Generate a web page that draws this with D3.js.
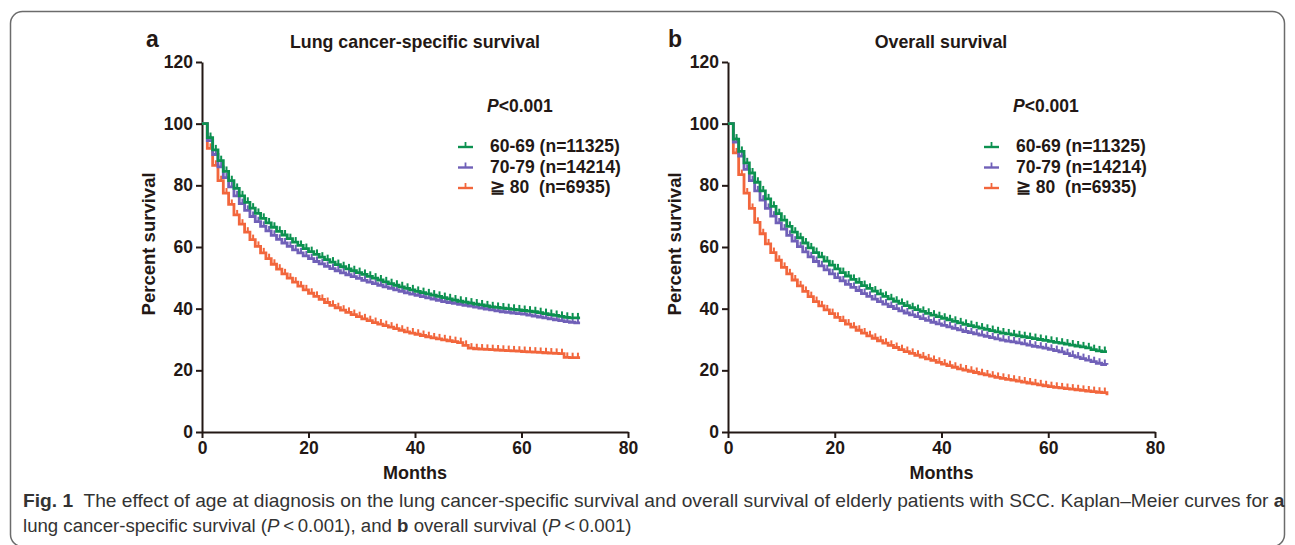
<!DOCTYPE html>
<html>
<head>
<meta charset="utf-8">
<script src="https://cdn.jsdelivr.net/npm/d3@7"></script>
<style>
  body { margin: 0; background: #fff; }
  svg { display: block; font-family: "Liberation Sans", Arial, sans-serif; }
  .axis path, .axis line { stroke: #231815; stroke-width: 2; }
  .axis text { font-size: 17.5px; font-weight: bold; fill: #231815; }
</style>
</head>
<body>
<svg id="chart" width="1295" height="545"></svg>
<script>
// months 0..71, one value per month (step after)
const months = d3.range(0, 72);

const groups = ['60-69 (n=11325)', '70-79 (n=14214)', '\u2267 80  (n=6935)'];
const colors = ['#0c9150', '#7060b8', '#f2663c'];

const xTicks = [0, 20, 40, 60, 80];
const yTicks = [0, 20, 40, 60, 80, 100, 120];

// a: lung cancer-specific survival
const lcss6069 = [100, 95.5, 91.5, 88, 84.5, 81.5, 79, 76.6, 74.5, 72.6, 70.9, 69.3, 67.8, 66.4, 65.1, 63.9, 62.7, 61.6, 60.5, 59.5,
  58.5, 57.6, 56.7, 55.9, 55.1, 54.3, 53.6, 52.9, 52.3, 51.7, 51.1, 50.5, 49.9, 49.3, 48.7, 48.1, 47.6, 47.1, 46.6, 46.1,
  45.6, 45.2, 44.8, 44.4, 44.0, 43.6, 43.2, 42.8, 42.4, 42.1, 41.8, 41.5, 41.2, 40.9, 40.6, 40.4, 40.2, 40.0, 39.8, 39.6,
  39.4, 39.2, 39.0, 38.7, 38.4, 38.1, 37.8, 37.5, 37.2, 37.0, 37.0, 37.0];
const lcss7079 = [100, 94.5, 90, 86, 82.5, 79.5, 76.6, 74.1, 71.9, 69.9, 68.2, 66.7, 65.2, 63.8, 62.5, 61.3, 60.2, 59.1, 58.1, 57.1,
  56.2, 55.3, 54.5, 53.7, 53.0, 52.3, 51.6, 51.0, 50.4, 49.8, 49.2, 48.6, 48.1, 47.6, 47.1, 46.6, 46.1, 45.6, 45.1, 44.7,
  44.3, 43.9, 43.5, 43.1, 42.7, 42.3, 42.0, 41.7, 41.4, 41.1, 40.8, 40.5, 40.2, 39.9, 39.6, 39.3, 39.0, 38.8, 38.6, 38.4,
  38.2, 37.9, 37.6, 37.3, 37.0, 36.7, 36.4, 36.1, 35.8, 35.6, 35.4, 35.4];
const lcss80 = [100, 92, 86.5, 81.5, 77.5, 73.8, 70.4, 67.4, 64.8, 62.4, 60.2, 58.1, 56.2, 54.4, 52.8, 51.3, 49.9, 48.6, 47.3, 46.1,
  45.0, 44.0, 43.0, 42.0, 41.1, 40.3, 39.5, 38.8, 38.1, 37.4, 36.7, 36.1, 35.5, 35.0, 34.5, 34.0, 33.5, 33.0, 32.5, 32.1,
  31.7, 31.3, 30.9, 30.5, 30.2, 29.9, 29.6, 29.3, 29.0, 28.1, 27.2, 27.0, 26.9, 26.8, 26.7, 26.6, 26.5, 26.4, 26.3, 26.2,
  26.1, 26.0, 25.9, 25.8, 25.7, 25.6, 25.5, 25.4, 24.2, 24.1, 24.1, 24.1];

// b: overall survival
const os6069 = [100, 95, 91, 87.3, 84, 81, 78.2, 75.6, 73.2, 70.8, 68.7, 66.7, 64.8, 63.0, 61.3, 59.7, 58.2, 56.8, 55.4, 54.1,
  52.9, 51.7, 50.6, 49.5, 48.5, 47.5, 46.6, 45.7, 44.8, 44.0, 43.2, 42.4, 41.7, 41.0, 40.3, 39.7, 39.1, 38.5, 37.9, 37.4,
  36.9, 36.4, 35.9, 35.4, 34.9, 34.5, 34.1, 33.7, 33.3, 32.9, 32.5, 32.1, 31.8, 31.5, 31.2, 30.9, 30.6, 30.3, 30.0, 29.7,
  29.4, 29.1, 28.8, 28.5, 28.2, 27.9, 27.6, 27.3, 26.7, 26.3, 26.1, 26.1];
const os7079 = [100, 94, 89.5, 85.2, 81.5, 78.2, 75.2, 72.5, 70, 67.8, 65.8, 63.8, 61.9, 60.1, 58.4, 56.8, 55.3, 53.9, 52.6, 51.3,
  50.1, 49.0, 47.9, 46.9, 45.9, 44.9, 44.0, 43.1, 42.3, 41.5, 40.7, 40.0, 39.3, 38.6, 38.0, 37.4, 36.8, 36.2, 35.6, 35.1,
  34.6, 34.1, 33.6, 33.1, 32.6, 32.2, 31.8, 31.4, 31.0, 30.6, 30.2, 29.8, 29.5, 29.2, 28.9, 28.6, 28.2, 27.8, 27.5, 27.2,
  26.8, 26.4, 26.0, 25.4, 24.8, 24.3, 23.8, 23.3, 22.8, 22.3, 21.9, 21.8];
const os80 = [100, 90.5, 83.5, 77.5, 72.5, 68, 64.3, 61, 58.2, 55.7, 53.4, 51.3, 49.3, 47.4, 45.6, 43.9, 42.3, 40.9, 39.6, 38.4,
  37.2, 36.1, 35.0, 34.0, 33.0, 32.1, 31.2, 30.4, 29.6, 28.8, 28.1, 27.4, 26.7, 26.1, 25.5, 24.9, 24.3, 23.7, 23.2, 22.6,
  22.0, 21.5, 21.0, 20.5, 20.1, 19.7, 19.3, 18.9, 18.5, 18.1, 17.7, 17.4, 17.1, 16.8, 16.5, 16.2, 15.9, 15.6, 15.3, 15.0,
  14.7, 14.5, 14.3, 14.1, 13.9, 13.7, 13.5, 13.3, 13.1, 12.9, 12.8, 11.9];

const svg = d3.select('#chart');
const ink = '#231815';

// rounded frame around the figure
svg.append('rect')
   .attr('x', 10.5).attr('y', 11.5)
   .attr('width', 1274).attr('height', 535)
   .attr('rx', 12)
   .attr('fill', 'none')
   .attr('stroke', '#6b6b6b')
   .attr('stroke-width', 1.5);

function drawPanel(p) {
  const x = d3.scaleLinear().domain([0, 80]).range([p.left, p.right]);
  const y = d3.scaleLinear().domain([0, 120]).range([432, 62]);

  svg.append('g')
     .attr('class', 'axis')
     .attr('transform', `translate(0,${y(0)})`)
     .call(d3.axisBottom(x).tickValues(xTicks).tickSize(6).tickSizeOuter(0).tickPadding(4))
     .call(g => g.selectAll('text').attr('dy', '0.71em'));

  svg.append('g')
     .attr('class', 'axis')
     .attr('transform', `translate(${x(0)},0)`)
     .call(d3.axisLeft(y).tickValues(yTicks).tickSize(6).tickSizeOuter(0).tickPadding(3));

  // curves
  const line = d3.line()
                 .x(d => x(d[0]))
                 .y(d => y(d[1]))
                 .curve(d3.curveStepAfter);

  // draw oldest group first so the younger groups stay on top
  p.series.slice().reverse().forEach((s, ri) => {
    const i = p.series.length - 1 - ri;
    const pts = months.map((m, k) => [m, s[k]]);
    svg.append('path')
       .datum(pts)
       .attr('d', line)
       .attr('fill', 'none')
       .attr('stroke', colors[i])
       .attr('stroke-width', 2.8)
       .attr('stroke-linejoin', 'miter');

    // censor ticks
    svg.append('g')
       .selectAll('line')
       .data(pts.slice(1, -1))
       .join('line')
       .attr('x1', d => x(d[0] + 0.6)).attr('x2', d => x(d[0] + 0.6))
       .attr('y1', d => y(d[1])).attr('y2', d => y(d[1]) - 5)
       .attr('stroke', colors[i])
       .attr('stroke-width', 2);
  });

  // panel letter and title
  svg.append('text')
     .attr('x', p.letterX).attr('y', 47)
     .attr('font-size', 23).attr('font-weight', 'bold').attr('fill', ink)
     .text(p.letter);
  svg.append('text')
     .attr('x', p.titleX).attr('y', 48)
     .attr('text-anchor', 'middle')
     .attr('font-size', 17.8).attr('font-weight', 'bold').attr('fill', ink)
     .text(p.title);

  // axis titles
  svg.append('text')
     .attr('x', (p.left + p.right) / 2).attr('y', 479)
     .attr('text-anchor', 'middle')
     .attr('font-size', 18).attr('font-weight', 'bold').attr('fill', ink)
     .text('Months');
  svg.append('text')
     .attr('transform', `translate(${p.left - 47},${y(61)}) rotate(-90)`)
     .attr('text-anchor', 'middle')
     .attr('font-size', 18.5).attr('font-weight', 'bold').attr('fill', ink)
     .text('Percent survival');

  // p-value and legend
  const pv = svg.append('text')
     .attr('x', p.legX + 29).attr('y', 112)
     .attr('font-size', 17.5).attr('font-weight', 'bold').attr('fill', ink);
  pv.append('tspan').attr('font-style', 'italic').text('P');
  pv.append('tspan').text('<0.001');

  groups.forEach((gName, i) => {
    const ly = 152 + i * 20.5;
    svg.append('line')
       .attr('x1', p.legX).attr('x2', p.legX + 15)
       .attr('y1', ly - 5).attr('y2', ly - 5)
       .attr('stroke', colors[i]).attr('stroke-width', 2.4);
    svg.append('line')
       .attr('x1', p.legX + 7.5).attr('x2', p.legX + 7.5)
       .attr('y1', ly - 5).attr('y2', ly - 10)
       .attr('stroke', colors[i]).attr('stroke-width', 1.8);
    svg.append('text')
       .attr('x', p.legX + 32).attr('y', ly)
       .attr('font-size', 17.5).attr('font-weight', 'bold').attr('fill', ink)
       .attr('xml:space', 'preserve')
       .text(gName);
  });
}

drawPanel({
  left: 202, right: 628, letter: 'a', letterX: 146, title: 'Lung cancer-specific survival', titleX: 415,
  legX: 458, series: [lcss6069, lcss7079, lcss80]
});
drawPanel({
  left: 728, right: 1155, letter: 'b', letterX: 668, title: 'Overall survival', titleX: 941,
  legX: 984, series: [os6069, os7079, os80]
});

// caption, squeezed to the width of the original condensed face
const capFont = '"Liberation Sans Narrow", "Liberation Sans", Arial, sans-serif';
function captionLine(parts, yPos, width) {
  const t = svg.append('text')
               .attr('x', 0).attr('y', 0)
               .attr('font-family', capFont)
               .attr('font-size', 19)
               .attr('fill', '#333')
               .attr('xml:space', 'preserve');
  parts.forEach(pt => {
    t.append('tspan')
     .attr('font-weight', pt.b ? 'bold' : null)
     .attr('font-style', pt.i ? 'italic' : null)
     .text(pt.s);
  });
  const w = t.node().getComputedTextLength();
  t.attr('transform', `translate(23,${yPos}) scale(${width / w},1)`);
}
captionLine([
  { s: 'Fig. 1', b: true },
  { s: '  The effect of age at diagnosis on the lung cancer-specific survival and overall survival of elderly patients with SCC. Kaplan\u2013Meier curves for ' },
  { s: 'a', b: true }
], 507, 1262);
captionLine([
  { s: 'lung cancer-specific survival (' },
  { s: 'P', i: true },
  { s: '\u2009<\u20090.001), and ' },
  { s: 'b', b: true },
  { s: ' overall survival (' },
  { s: 'P', i: true },
  { s: '\u2009<\u20090.001)' }
], 532, 609);
</script>
</body>
</html>
